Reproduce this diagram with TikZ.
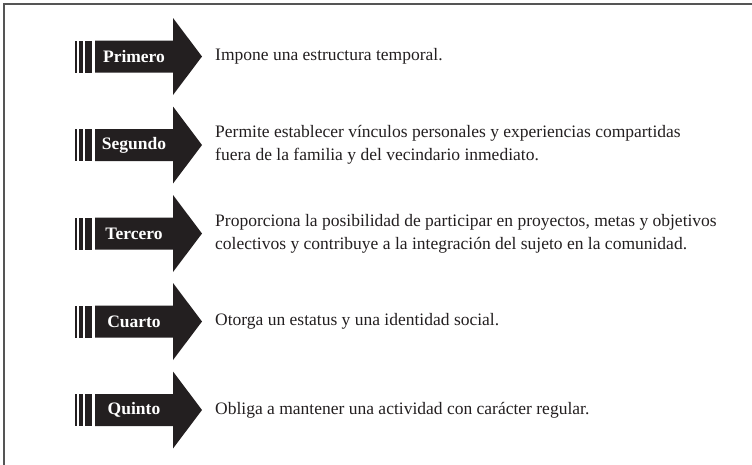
\documentclass[tikz,border=0pt]{standalone}
\usepackage{fontspec}
\setmainfont{Liberation Serif}
\definecolor{arrowc}{HTML}{231F20}
\definecolor{framec}{HTML}{555555}
\begin{document}
\begin{tikzpicture}[x=1pt,y=-1pt,
  lab/.style={text=white,font=\fontsize{17.5}{21}\selectfont\bfseries,inner sep=0pt},
  desc/.style={anchor=west,align=left,inner sep=0pt,text=arrowc,font=\fontsize{17.5}{23}\selectfont},
  arr/.style={fill=arrowc,draw=none}]
\useasboundingbox (0,0) rectangle (752,464);
\draw[framec,line width=1.6pt] (4.2,470) -- (4.2,4.2) -- (760,4.2);
\foreach \c/\n/\name in {56.5/1/Primero,145/2/Segundo,233.5/3/Tercero,321.5/4/Cuarto,410/5/Quinto}{
  \fill[arrowc] (75,\c-16) rectangle (77.3,\c+16);
  \fill[arrowc] (79,\c-16) rectangle (82.6,\c+16);
  \fill[arrowc] (84.8,\c-16) rectangle (92.2,\c+16);
  \path[arr] (95,\c-16) -- (173,\c-16) -- (173,\c-38.5) -- (202,\c) -- (173,\c+38.5) -- (173,\c+16) -- (95,\c+16) -- cycle;
  \node[lab] (lab\n) at (134,\c) {\name};
}
\node[desc] (txt1) at (215,56.5) {Impone una estructura temporal.};
\node[desc] (txt2) at (215,145) {Permite establecer vínculos personales y experiencias compartidas\\fuera de la familia y del vecindario inmediato.};
\node[desc] (txt3) at (215,233.5) {Proporciona la posibilidad de participar en proyectos, metas y objetivos\\colectivos y contribuye a la integración del sujeto en la comunidad.};
\node[desc] (txt4) at (215,321.5) {Otorga un estatus y una identidad social.};
\node[desc] (txt5) at (215,410) {Obliga a mantener una actividad con carácter regular.};
\end{tikzpicture}
\end{document}
